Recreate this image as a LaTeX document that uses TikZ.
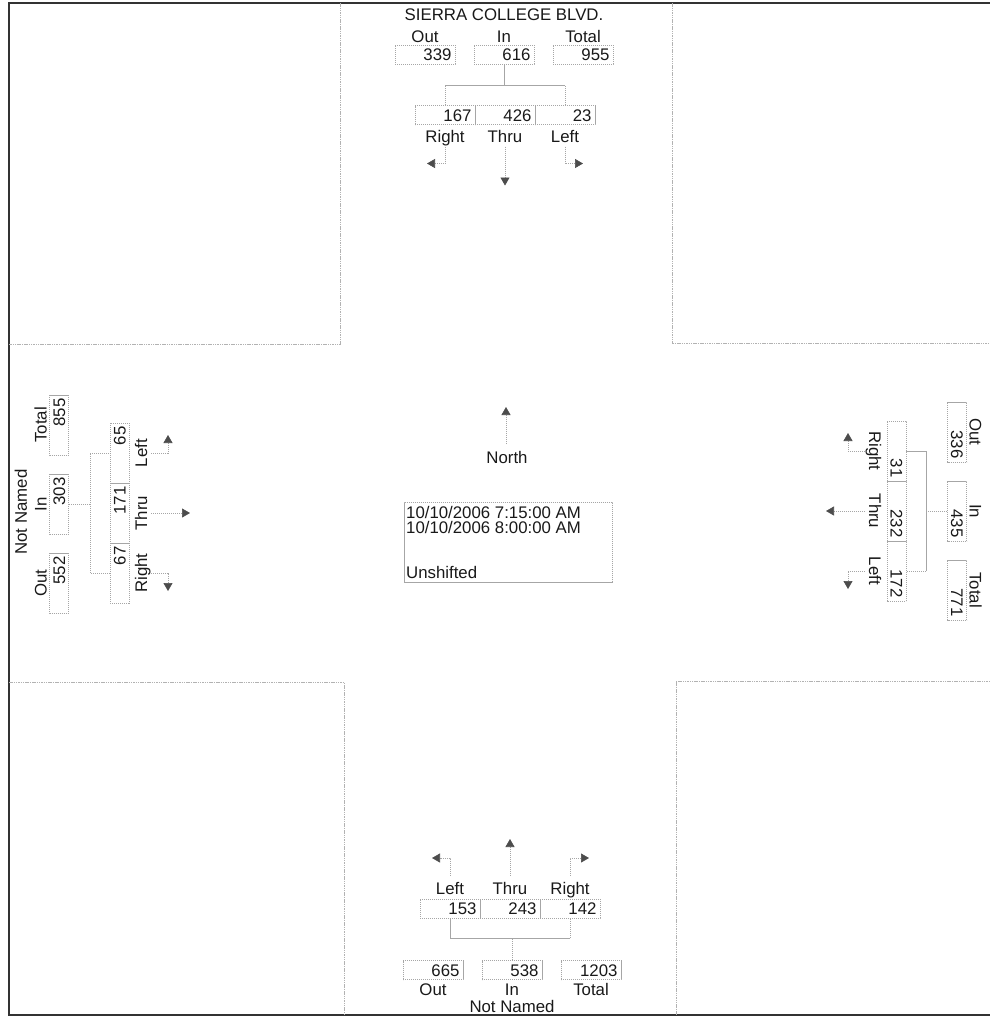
\documentclass[tikz,border=0pt]{standalone}
\usepackage{fontspec}
\setmainfont{Liberation Sans}
\usetikzlibrary{arrows.meta}
\newcommand\drawapproach[8]{%
  \node[txt] (#1OutL) at (-79,-18.5) {Out};
  \node[txt] (#1InL) at (0,-18.5) {In};
  \node[txt] (#1TotL) at (79,-18.5) {Total};
  \node[numbox] (#1Out) at (-79,0) {#3};
  \node[numbox] (#1In) at (0,0) {#4};
  \node[numbox] (#1Tot) at (79,0) {#5};
  \node[numbox] (#1R) at ({-60+#2},60.5) {#6};
  \node[numbox] (#1T) at ({#2},60.5) {#7};
  \node[numbox] (#1L) at ({60+#2},60.5) {#8};
  \node[txt] (#1Rl) at ({-60+#2},82) {Right};
  \node[txt] (#1Tl) at ({#2},82) {Thru};
  \node[txt] (#1Ll) at ({60+#2},82) {Left};
  \coordinate (#1J) at (0,31);
  \coordinate (#1JR) at ({-60+#2},31);
  \coordinate (#1JL) at ({60+#2},31);
  \draw[conn] (#1In.south) -- (#1J);
  \draw[conn] (#1R.north) -- (#1JR) -- (#1JL) -- (#1L.north);
  \coordinate (#1Ra) at ({-60+#2},92);
  \coordinate (#1Rb) at ({-60+#2},109);
  \coordinate (#1Re) at ({-78+#2},109);
  \coordinate (#1Ta) at ({#2},92);
  \coordinate (#1Te) at ({#2},131);
  \coordinate (#1La) at ({60+#2},92);
  \coordinate (#1Lb) at ({60+#2},109);
  \coordinate (#1Le) at ({78+#2},109);
  \draw[arr] (#1Ra) -- (#1Rb) -- (#1Re);
  \draw[arr] (#1Ta) -- (#1Te);
  \draw[arr] (#1La) -- (#1Lb) -- (#1Le);
}
\begin{document}
\begin{tikzpicture}[x=1pt,y=-1pt,
  txt/.style={font=\fontsize{16.8}{18}\selectfont, text=black!90, inner sep=0pt, text height=12pt, text depth=0pt},
  numbox/.style={txt, draw=gray!70, line width=0.6pt, dash pattern=on 1.2pt off 0.8pt, text width=53pt, align=right, inner xsep=3.5pt, inner ysep=3.5pt},
  conn/.style={draw=gray!70, line width=0.6pt, dash pattern=on 1.2pt off 0.8pt},
  arr/.style={conn, -{Triangle[width=9pt,length=8pt,color=black!70]}},
  frame/.style={draw=black!80, line width=1.6pt},
  block/.style={draw=gray!60, line width=0.7pt, dash pattern=on 1.5pt off 0.8pt}
]
\useasboundingbox (0,0) rectangle (990,1018);
% outer frame
\coordinate (ftl) at (9,3);
\coordinate (ftr) at (990,3);
\coordinate (fbl) at (9,1015);
\coordinate (fbr) at (990,1015);
\draw[frame] (ftr) -- (ftl) -- (fbl) -- (fbr);
% corner blocks
\coordinate (tl1) at (340,3); \coordinate (tl2) at (340,344); \coordinate (tl3) at (9,344);
\draw[block] (tl1) -- (tl2) -- (tl3);
\coordinate (tr1) at (672,3); \coordinate (tr2) at (672,343); \coordinate (tr3) at (990,343);
\draw[block] (tr1) -- (tr2) -- (tr3);
\coordinate (bl1) at (9,682); \coordinate (bl2) at (344,682); \coordinate (bl3) at (344,1015);
\draw[block] (bl1) -- (bl2) -- (bl3);
\coordinate (br1) at (990,681); \coordinate (br2) at (676,681); \coordinate (br3) at (676,1015);
\draw[block] (br1) -- (br2) -- (br3);

% north approach
\begin{scope}[shift={(504,54.5)}]
  \node[txt] (nTitle) at (0,-40) {SIERRA COLLEGE BLVD.};
  \drawapproach{n}{1}{339}{616}{955}{167}{426}{23}
\end{scope}
% west approach
\begin{scope}[shift={(59,504)}, rotate=90, transform shape]
  \node[txt] (wTitle) at (-8,-38) {Not Named};
  \drawapproach{w}{-9}{552}{303}{855}{67}{171}{65}
\end{scope}
% east approach
\begin{scope}[shift={(957,511)}, rotate=-90, transform shape]
  \drawapproach{e}{0}{336}{435}{771}{31}{232}{172}
\end{scope}
% south approach
\node[txt] (sTitle) at (512,1006) {Not Named};
\node[txt] (sOutL) at (433,989) {Out};
\node[txt] (sInL) at (512,989) {In};
\node[txt] (sTotL) at (591,989) {Total};
\node[numbox] (sOut) at (433,970) {665};
\node[numbox] (sIn) at (512,970) {538};
\node[numbox] (sTot) at (591,970) {1203};
\node[numbox] (sL) at (450,908.5) {153};
\node[numbox] (sT) at (510,908.5) {243};
\node[numbox] (sR) at (570,908.5) {142};
\node[txt] (sLl) at (450,888) {Left};
\node[txt] (sTl) at (510,888) {Thru};
\node[txt] (sRl) at (570,888) {Right};
\coordinate (sJ) at (512,938);
\coordinate (sJL) at (450,938);
\coordinate (sJR) at (570,938);
\draw[conn] (sIn.north) -- (sJ);
\draw[conn] (sL.south) -- (sJL) -- (sJR) -- (sR.south);
\coordinate (sLa) at (450,876); \coordinate (sLb) at (450,858); \coordinate (sLe) at (432,858);
\coordinate (sTa) at (510,876); \coordinate (sTe) at (510,839);
\coordinate (sRa) at (570,876); \coordinate (sRb) at (570,858); \coordinate (sRe) at (589,858);
\draw[arr] (sLa) -- (sLb) -- (sLe);
\draw[arr] (sTa) -- (sTe);
\draw[arr] (sRa) -- (sRb) -- (sRe);

% north arrow
\node[txt] (north) at (507,457) {North};
\coordinate (na) at (506,444);
\coordinate (nt) at (506,407);
\draw[arr] (na) -- (nt);

% info box
\node[draw=gray!70, line width=0.6pt, dash pattern=on 1.2pt off 0.8pt, minimum width=208pt, minimum height=80pt, inner sep=0pt, anchor=north west] (infobox) at (404,502) {};
\node[font=\fontsize{16.8}{15}\selectfont, text=black!90, align=left, inner sep=0pt, anchor=north west] (infotext) at (406,506)
  {10/10/2006 7:15:00 AM\\10/10/2006 8:00:00 AM\\[30pt]Unshifted};
\end{tikzpicture}
\end{document}
